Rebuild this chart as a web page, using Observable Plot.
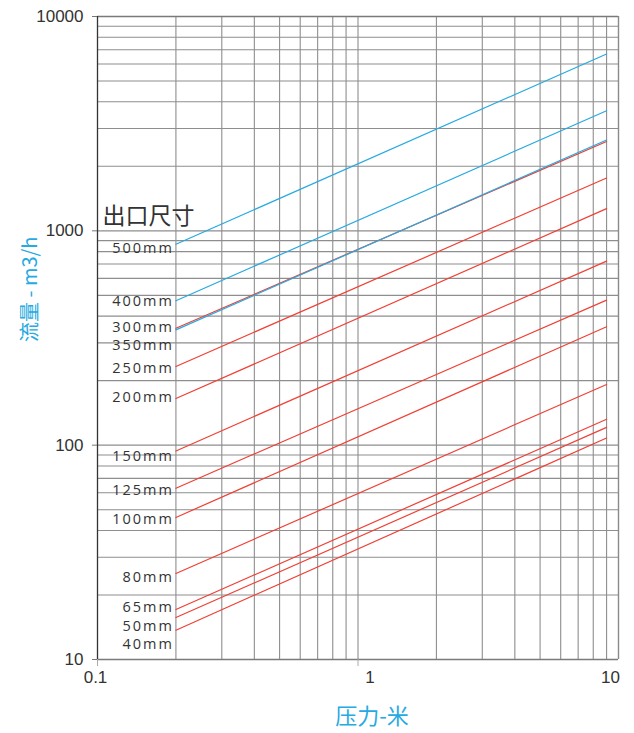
<!DOCTYPE html>
<html>
<head>
<meta charset="utf-8">
<script src="https://cdn.jsdelivr.net/npm/d3@7"></script>
<script src="https://cdn.jsdelivr.net/npm/@observablehq/plot@0.6"></script>
<style>
  body { margin: 0; background: #fff; }
</style>
</head>
<body>
<div id="chart"></div>
<script>
// Outlet sizes (series), in the order drawn
const sizes = ["500mm", "400mm", "300mm", "350mm", "250mm", "200mm", "150mm", "125mm", "100mm", "80mm", "65mm", "50mm", "40mm"];
// Pressure (m) at the start and end of each line
const pressureStart = 0.2;
const pressureEnd = 9;
// Flow (m3/h) read at the start and end of each line
const flowStart = [866, 472, 351, 345, 233, 165, 94, 63, 46, 25.2, 17.1, 15.7, 13.7];
const flowEnd = [6680, 3634, 2612, 2654, 1765, 1270, 722, 475, 357, 192, 132, 121, 108];
// Line colour group for each size
const colorGroup = ["blue", "blue", "red", "blue", "red", "red", "red", "red", "red", "red", "red", "red", "red"];
// Flow level at which each size label sits
const labelFlow = [835, 473, 358, 296, 230, 169, 89.5, 62.2, 45.5, 24.5, 17.7, 14.5, 11.9];

// Axis ticks and labels
const xTicks = [0.1, 1, 10];
const xTickLabels = ["0.1", "1", "10"];
const yTicks = [10, 100, 1000, 10000];
const yTickLabels = ["10", "100", "1000", "10000"];
const xGrid = [0.2, 0.3, 0.4, 0.5, 0.6, 0.7, 0.8, 0.9, 1, 2, 3, 4, 5, 6, 7, 8, 9];
const yGrid = [20, 30, 40, 50, 60, 70, 80, 90, 100, 200, 300, 400, 500, 600, 700, 800, 900, 1000, 2000, 3000, 4000, 5000, 6000, 7000, 8000, 9000];

const title = "出口尺寸";
const xLabel = "压力-米";
const yLabel = "流量 - m3/h";

const palette = {blue: "#27aae1", red: "#ef4136"};

const lineRows = sizes.flatMap((s, i) => [
  {size: s, p: pressureStart, q: flowStart[i], c: palette[colorGroup[i]]},
  {size: s, p: pressureEnd, q: flowEnd[i], c: palette[colorGroup[i]]}
]);
const labelRows = sizes.map((s, i) => ({size: s, p: pressureStart, q: labelFlow[i]}));

const gridColor = "#8e8e8e";
const textColor = "#333";

const chart = Plot.plot({
  width: 634,
  height: 733,
  marginLeft: 97,
  marginRight: 16,
  marginTop: 16,
  marginBottom: 74,
  style: {fontFamily: "'Liberation Sans', Arial, sans-serif", background: "#fff"},
  x: {type: "log", domain: [0.1, 10], axis: null},
  y: {type: "log", domain: [10, 10000], axis: null},
  color: {type: "identity"},
  marks: [
    Plot.ruleX(xGrid, {stroke: gridColor, strokeWidth: 1.1}),
    Plot.ruleY(yGrid, {stroke: gridColor, strokeWidth: 1.1}),
    Plot.ruleY([10, 10000], {stroke: "#7a7a7a", strokeWidth: 1.4}),
    Plot.ruleX([10], {stroke: "#8a8a8a", strokeWidth: 1.4}),
    Plot.ruleX([0.1], {stroke: "#333", strokeWidth: 1.3}),
    // y ticks and labels
    Plot.axisY({ticks: yTicks, label: null, tickSize: 5, tickPadding: 9, tickFormat: d => yTickLabels[yTicks.indexOf(d)], fontSize: 17, fill: textColor, stroke: "#777"}),
    Plot.axisX({ticks: [0.1, 1], label: null, tickSize: 7, tickFormat: () => "", stroke: "#aaa"}),
    Plot.text([0], {x: () => xTicks[0], text: () => xTickLabels[0], frameAnchor: "bottom", dy: 23, dx: -2, fontSize: 17, fill: textColor}),
    Plot.text([0], {x: () => xTicks[1], text: () => xTickLabels[1], frameAnchor: "bottom", dy: 23, dx: 12, fontSize: 17, fill: textColor}),
    Plot.text([0], {x: () => xTicks[2], text: () => xTickLabels[2], frameAnchor: "bottom", dy: 23, dx: -8, fontSize: 17, fill: textColor}),
    // series
    Plot.line(lineRows, {x: "p", y: "q", z: "size", stroke: "c", strokeWidth: 1.2}),
    // size labels
    Plot.text(labelRows, {x: "p", y: "q", text: "size", textAnchor: "end", dx: -2, dy: 1, fontSize: 14.5, fill: textColor, fontFamily: "'Open Sans', sans-serif"}),
    // titles
    Plot.text([title], {frameAnchor: "top-left", text: d => d, dx: 5, dy: 191, textAnchor: "start", fontSize: 23, fill: textColor, fontFamily: "'Noto Sans CJK SC', sans-serif"}),
    Plot.text([xLabel], {frameAnchor: "bottom", text: d => d, dx: 14, dy: 64, fontSize: 22, fill: palette.blue, fontFamily: "'Noto Sans CJK SC', sans-serif"}),
    Plot.text([yLabel], {frameAnchor: "left", text: d => d, rotate: -90, dx: -67, dy: 4, fontSize: 20, fill: palette.blue, fontFamily: "'Noto Sans CJK SC', sans-serif"})
  ]
});
// widen the size labels a little, like the reference lettering
d3.select(chart).selectAll("text").filter(function () { return sizes.includes(this.textContent); })
  .style("letter-spacing", "2px");
document.getElementById("chart").appendChild(chart);
</script>
</body>
</html>
